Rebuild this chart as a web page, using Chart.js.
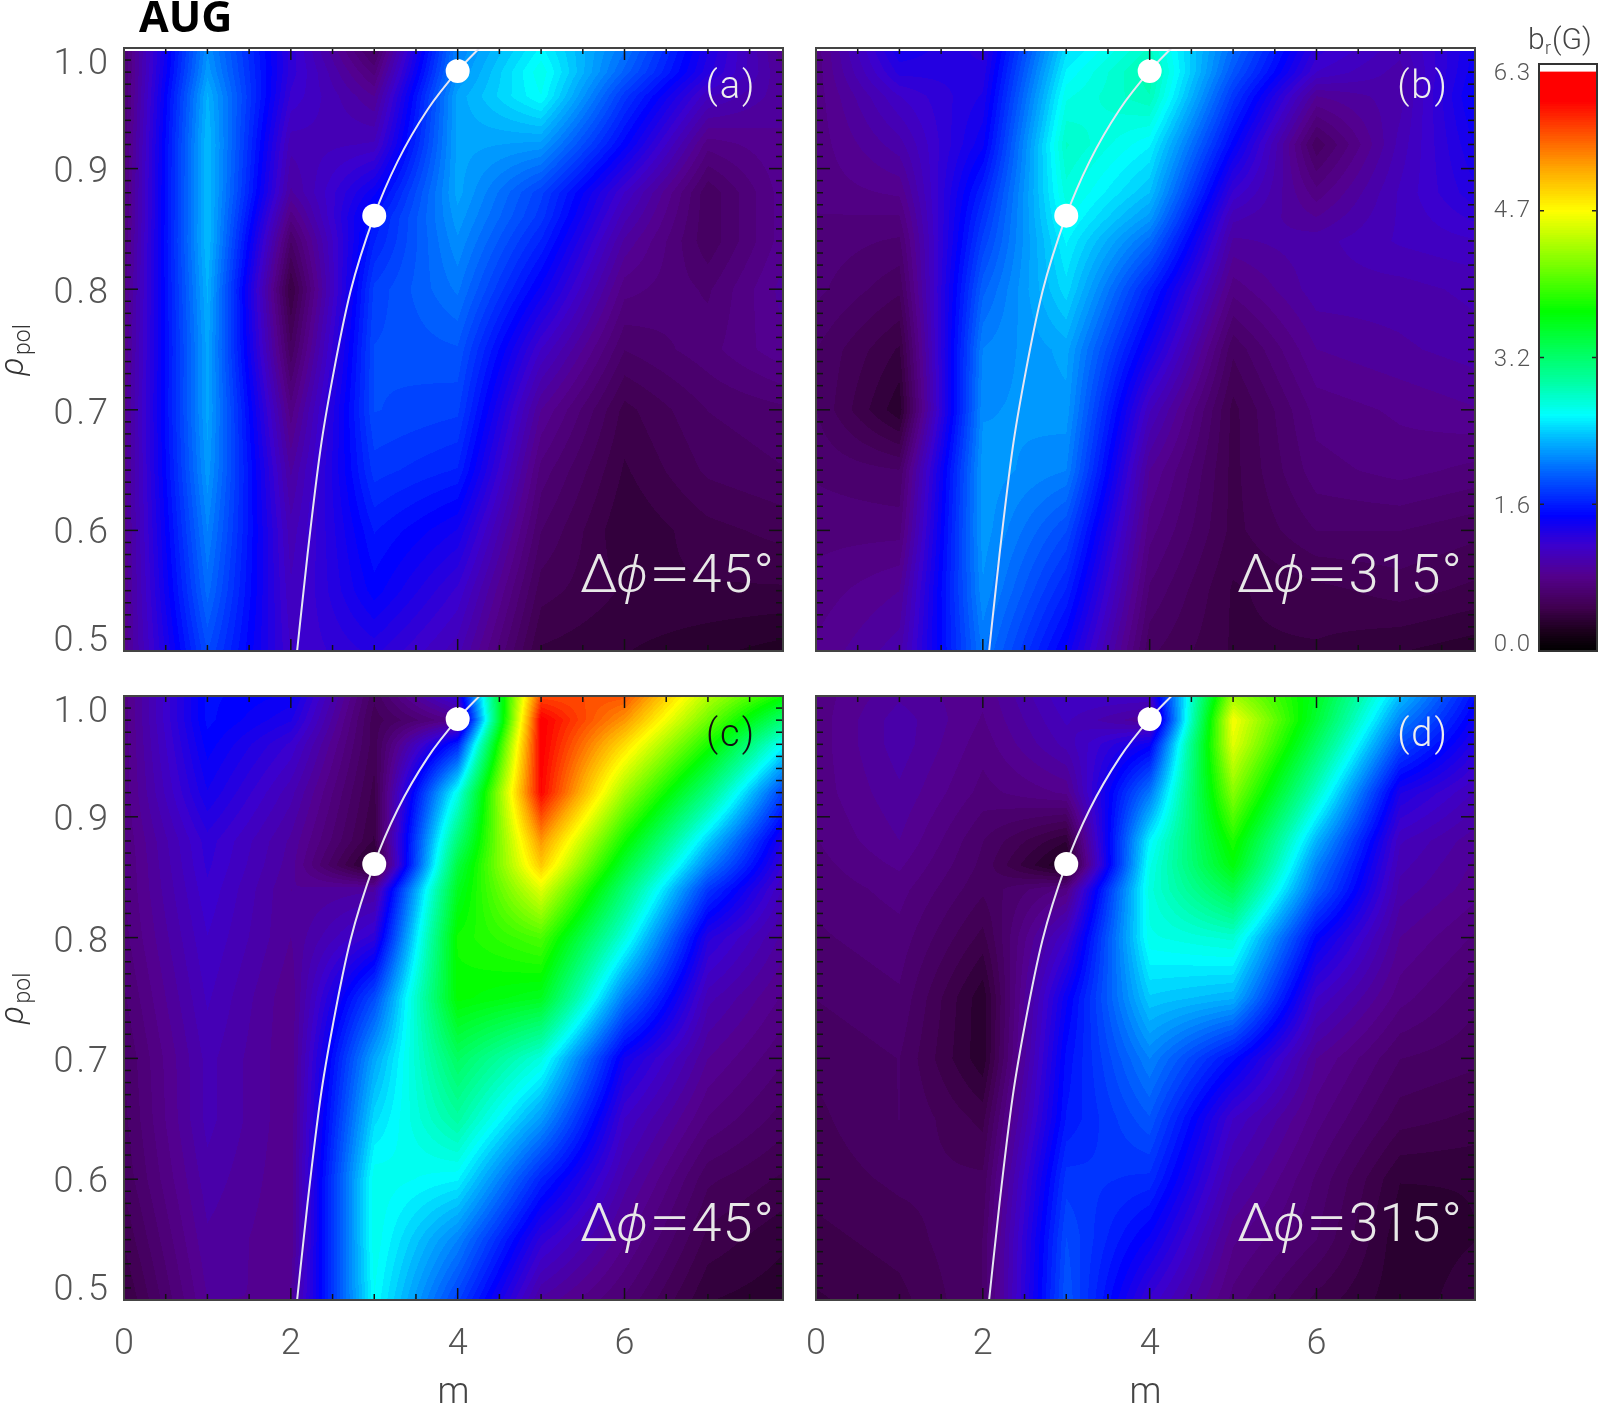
<!DOCTYPE html>
<html>
<head>
<meta charset="utf-8">
<title>AUG</title>
<script src="https://cdn.jsdelivr.net/npm/chart.js@4"></script>
<style>
    body { margin: 0; background: #fff; }
    #page { position: relative; width: 1600px; height: 1403px; overflow: hidden; }
    #page canvas { position: absolute; }
</style>
</head>
<body>
<div id="page">
    <canvas id="chartA" width="800" height="670" style="left:0;top:0"></canvas>
    <canvas id="chartB" width="690" height="670" style="left:800px;top:0"></canvas>
    <canvas id="chartC" width="800" height="746" style="left:0;top:670px"></canvas>
    <canvas id="chartD" width="798" height="746" style="left:692px;top:670px"></canvas>
    <canvas id="chartBar" width="110" height="670" style="left:1490px;top:0"></canvas>
</div>
<script>
// grid of the b_r maps, one row per rho, one column per m
const mGrid = [0, 1, 2, 3, 4, 5, 6, 7, 8];
const rhoGrid = [0.50, 0.55, 0.60, 0.65, 0.70, 0.75, 0.80, 0.84, 0.86, 0.88, 0.92, 0.96, 0.98, 1.00];

const panelA = [
    [.8, 1.8, 1.1, 1.25, 1.0, .4, .35, .3, .25],
    [.8, 1.95, 1.05, 1.45, 1.15, .5, .4, .4, .4],
    [.8, 2.05, 1.0, 1.55, 1.35, .6, .35, .45, .5],
    [.8, 2.15, .9, 1.7, 1.6, .7, .4, .55, .6],
    [.8, 2.2, .75, 1.8, 1.75, .85, .45, .6, .65],
    [.78, 2.2, .55, 1.8, 1.85, 1.1, .6, .7, .85],
    [.75, 2.25, .4, 1.75, 2.0, 1.4, .75, .65, .9],
    [.72, 2.3, .6, 1.6, 2.1, 1.6, .9, .55, .85],
    [.7, 2.3, .75, 1.55, 2.15, 1.7, 1.0, .55, .85],
    [.7, 2.3, .9, 1.4, 2.2, 1.75, 1.1, .55, .85],
    [.68, 2.3, 1.0, 1.05, 2.2, 2.15, 1.45, .75, .85],
    [.65, 2.25, 1.15, .85, 2.2, 2.55, 1.7, 1.05, .85],
    [.65, 2.15, 1.2, .7, 2.1, 2.6, 1.9, 1.25, .8],
    [.65, 2.1, 1.2, .55, 2.05, 2.5, 2.0, 1.3, .75]
];
const panelB = [
    [.8, .95, 2.0, 1.4, .55, .4, .4, .35, .3],
    [.75, .85, 2.1, 1.6, .65, .4, .45, .5, .45],
    [.7, .7, 2.15, 1.8, .75, .45, .6, .6, .55],
    [.65, .6, 2.15, 2.05, .85, .45, .7, .75, .7],
    [.6, .3, 2.1, 2.15, 1.05, .45, .75, .8, .85],
    [.6, .4, 2.05, 2.2, 1.35, .55, .85, .9, .95],
    [.68, .55, 1.9, 2.4, 1.6, .75, .95, .95, 1.0],
    [.7, .65, 1.75, 2.5, 1.95, .9, .95, 1.05, 1.1],
    [.72, .72, 1.68, 2.58, 2.15, 1.0, .85, 1.05, 1.2],
    [.75, .8, 1.6, 2.65, 2.3, 1.15, .75, 1.05, 1.3],
    [.75, .95, 1.4, 2.75, 2.5, 1.45, .55, 1.0, 1.4],
    [.75, 1.1, 1.3, 2.6, 2.8, 1.7, .85, .95, 1.5],
    [.75, 1.25, 1.25, 2.5, 2.85, 1.85, 1.1, .95, 1.45],
    [.75, 1.35, 1.2, 2.4, 2.75, 1.95, 1.2, 1.0, 1.4]
];
const panelC = [
    [.4, .85, .85, 2.55, 1.75, .9, .65, .35, .3],
    [.48, .9, .8, 2.6, 2.05, 1.2, .8, .45, .35],
    [.55, .95, .8, 2.6, 2.5, 1.6, .95, .55, .45],
    [.58, 1.0, .8, 2.4, 2.9, 2.15, 1.1, .72, .55],
    [.6, 1.0, .8, 2.2, 3.2, 2.65, 1.35, .85, .65],
    [.65, 1.05, .8, 1.8, 3.65, 3.5, 2.0, 1.0, .75],
    [.7, 1.1, .85, 1.2, 3.7, 3.95, 2.65, 1.25, .85],
    [.72, 1.15, .85, .9, 3.5, 4.6, 3.1, 1.7, .95],
    [.72, 1.18, .88, .25, 3.35, 5.0, 3.4, 2.05, 1.05],
    [.73, 1.2, .9, .4, 3.1, 5.25, 3.7, 2.35, 1.15],
    [.75, 1.35, 1.0, .45, 2.6, 5.9, 4.3, 3.05, 1.6],
    [.75, 1.45, 1.15, .5, 1.6, 5.95, 4.9, 3.75, 2.4],
    [.75, 1.5, 1.3, .5, .8, 5.95, 5.25, 4.1, 3.0],
    [.75, 1.5, 1.4, .55, 1.2, 5.6, 5.55, 4.4, 3.6]
];
const panelD = [
    [.4, .45, .6, 1.85, 1.15, .7, .45, .3, .4],
    [.45, .5, .6, 1.8, 1.4, .8, .6, .3, .35],
    [.5, .55, .55, 1.7, 1.65, .95, .65, .35, .35],
    [.52, .6, .45, 1.55, 1.85, 1.1, .75, .5, .45],
    [.55, .6, .3, 1.5, 2.05, 1.5, .85, .6, .55],
    [.6, .65, .3, 1.4, 2.35, 2.25, 1.1, .75, .6],
    [.65, .7, .45, 1.1, 2.6, 2.7, 1.45, .85, .7],
    [.68, .75, .55, .75, 2.65, 3.3, 1.9, .95, .8],
    [.7, .8, .58, .2, 2.6, 3.6, 2.05, 1.0, .82],
    [.72, .85, .6, .35, 2.5, 3.75, 2.25, 1.05, .85],
    [.75, .9, .7, .8, 2.0, 4.2, 2.75, 1.3, 1.0],
    [.75, .95, .75, 1.0, 1.4, 4.6, 3.2, 1.8, 1.2],
    [.75, .95, .78, 1.05, .85, 4.7, 3.4, 2.05, 1.3],
    [.75, .9, .8, 1.1, 1.1, 4.3, 3.5, 2.3, 1.4]
];

// white q=m/n curve and the two rational surfaces on it
const curveM = [2.075, 2.2, 2.357, 2.51, 2.715, 3.0, 3.28, 3.64, 4.0, 4.29];
const curveRho = [0.50, 0.58, 0.668, 0.73, 0.798, 0.861, 0.906, 0.949, 0.981, 1.002];
const surfaceM = [3, 4];
const surfaceRho = [0.861, 0.981];

// color table: value, r, g, b
const colorStops = [
    [0.0, 0, 0, 0], [0.2, 25, 0, 25], [0.47, 64, 0, 80], [0.8, 84, 0, 140], [1.13, 60, 0, 205],
    [1.45, 0, 0, 255], [1.92, 0, 100, 255], [2.3, 0, 190, 255], [2.53, 0, 255, 255],
    [2.86, 0, 255, 170], [3.64, 0, 255, 0], [4.18, 130, 255, 0], [4.72, 255, 255, 0],
    [5.16, 255, 170, 0], [5.6, 255, 70, 0], [5.9, 255, 0, 0], [6.22, 255, 0, 0], [6.23, 255, 255, 255]
];
const colorLevels = 100;

const xMax = 7.9;
const mMajor = [2, 4, 6];
const mMinor = [0.5, 1, 1.5, 2.5, 3, 3.5, 4.5, 5, 5.5, 6.5, 7, 7.5];
const rhoMajor = [0.6, 0.7, 0.8, 0.9];
const rhoLabels = ["0.5", "0.6", "0.7", "0.8", "0.9", "1.0"];
const rhoLabelShift = [-9, 4, 5, 5, 4, 17];
const barTicks = [0, 1.575, 3.15, 4.725, 6.3];
const barLabels = ["0.0", "1.6", "3.2", "4.7", "6.3"];
const barLabelShift = [-6, 3, 2, 0, 10];

const thinFont = '"Roboto", "Liberation Sans", sans-serif';

function colorFor(v, levels) {
    // the original is a filled contour, so snap to a fixed number of levels
    let q = v < 6.22 ? Math.round(v / 6.3 * levels) / levels * 6.3 : v;
    for (let i = 1; i < colorStops.length; i++) {
        if (q <= colorStops[i][0]) {
            const a = colorStops[i - 1], b = colorStops[i];
            const t = (q - a[0]) / (b[0] - a[0]);
            return [a[1] + (b[1] - a[1]) * t, a[2] + (b[2] - a[2]) * t, a[3] + (b[3] - a[3]) * t];
        }
    }
    return [255, 255, 255];
}

function findCell(arr, v) {
    let i = 0;
    while (i < arr.length - 2 && v > arr[i + 1]) i++;
    return i;
}

// paints the map pixel by pixel, position comes from the chart scales
const heatPlugin = {
    id: 'heat',
    beforeDatasetsDraw(chart) {
        const grid = chart.options.plugins.heat.grid;
        if (!grid) return;
        const area = chart.chartArea, xs = chart.scales.x, ys = chart.scales.y;
        const w = Math.round(area.width), h = Math.round(area.height);
        const off = document.createElement('canvas');
        off.width = w;
        off.height = h;
        const offCtx = off.getContext('2d');
        const img = offCtx.createImageData(w, h);
        for (let py = 0; py < h; py++) {
            const rho = ys.getValueForPixel(area.top + py + 0.5);
            const r = findCell(rhoGrid, rho);
            const tr = Math.min(1, Math.max(0, (rho - rhoGrid[r]) / (rhoGrid[r + 1] - rhoGrid[r])));
            for (let px = 0; px < w; px++) {
                const m = xs.getValueForPixel(area.left + px + 0.5);
                const c = findCell(mGrid, m);
                const tc = m - mGrid[c];
                const low = grid[r][c] * (1 - tc) + grid[r][c + 1] * tc;
                const high = grid[r + 1][c] * (1 - tc) + grid[r + 1][c + 1] * tc;
                const col = colorFor(low * (1 - tr) + high * tr, colorLevels);
                const k = (py * w + px) * 4;
                img.data[k] = col[0];
                img.data[k + 1] = col[1];
                img.data[k + 2] = col[2];
                img.data[k + 3] = 255;
            }
        }
        offCtx.putImageData(img, 0, 0);
        chart.ctx.drawImage(off, area.left, area.top);
    }
};

function tickLine(ctx, x1, y1, x2, y2) {
    ctx.beginPath();
    ctx.moveTo(x1, y1);
    ctx.lineTo(x2, y2);
    ctx.stroke();
}

// frame, inward ticks and all panel text
const framePlugin = {
    id: 'frame',
    afterDatasetsDraw(chart) {
        const o = chart.options.plugins.frame;
        const ctx = chart.ctx, a = chart.chartArea, xs = chart.scales.x, ys = chart.scales.y;
        ctx.save();
        ctx.strokeStyle = '#111';
        ctx.lineWidth = 1.5;
        mMajor.forEach(v => {
            const x = xs.getPixelForValue(v);
            tickLine(ctx, x, a.top, x, a.top + 12);
            tickLine(ctx, x, a.bottom, x, a.bottom - 12);
        });
        mMinor.forEach(v => {
            const x = xs.getPixelForValue(v);
            tickLine(ctx, x, a.top, x, a.top + 6);
            tickLine(ctx, x, a.bottom, x, a.bottom - 6);
        });
        for (let i = 51; i < 100; i++) {
            const v = i / 100;
            const y = ys.getPixelForValue(v);
            const len = rhoMajor.includes(v) ? 14 : 7;
            tickLine(ctx, a.left, y, a.left + len, y);
            tickLine(ctx, a.right, y, a.right - len, y);
        }
        ctx.strokeStyle = '#444';
        ctx.lineWidth = 2;
        ctx.strokeRect(a.left, a.top, a.width, a.height);

        // y labels, the end ones sit inside the range like in the original
        if (o.yLabels) {
            ctx.font = '300 36px ' + thinFont;
            ctx.fillStyle = '#555';
            ctx.textAlign = 'right';
            ctx.textBaseline = 'middle';
            ctx.letterSpacing = '3px';
            rhoLabels.forEach((t, i) => {
                ctx.fillText(t, a.left - 13, ys.getPixelForValue(parseFloat(t)) + rhoLabelShift[i]);
            });
            ctx.letterSpacing = '0px';
            // rho_pol rotated
            ctx.save();
            ctx.translate(0, (a.top + a.bottom) / 2);
            ctx.rotate(-Math.PI / 2);
            ctx.textAlign = 'center';
            ctx.textBaseline = 'alphabetic';
            ctx.fillStyle = '#333';
            ctx.font = 'italic 300 34px ' + thinFont;
            ctx.fillText('ρ', -17, 23);
            ctx.font = '300 23px ' + thinFont;
            ctx.fillText('pol', 10, 30);
            ctx.restore();
        }

        // panel letter and phase label
        ctx.font = '300 38px ' + thinFont;
        ctx.fillStyle = o.letterColor;
        ctx.textAlign = 'center';
        ctx.textBaseline = 'middle';
        ctx.letterSpacing = '2px';
        ctx.fillText(o.letter, a.right - 52, a.top + 40);
        ctx.letterSpacing = '0px';

        ctx.fillStyle = '#e8e8e8';
        ctx.textAlign = 'left';
        ctx.textBaseline = 'alphabetic';
        let tx = a.right - o.phaseLeft;
        const ty = a.bottom - 59;
        ctx.font = '300 54px ' + thinFont;
        ctx.fillText('Δ', tx, ty);
        tx += ctx.measureText('Δ').width - 2;
        ctx.font = 'italic 300 50px "Noto Sans"';
        ctx.fillText('ϕ', tx, ty);
        tx += ctx.measureText('ϕ').width + 1;
        // the equals sign is a wide one in the original
        ctx.font = '300 54px ' + thinFont;
        ctx.save();
        ctx.translate(tx, ty);
        ctx.scale(1.4, 1);
        ctx.fillText('=', 0, 0);
        ctx.restore();
        tx += ctx.measureText('=').width * 1.4 + 1;
        ctx.letterSpacing = '1px';
        ctx.fillText(o.phase, tx, ty);
        ctx.letterSpacing = '0px';

        if (o.title) {
            ctx.font = 'bold 43px "Open Sans", "Noto Sans", sans-serif';
            ctx.fillStyle = '#000';
            ctx.textAlign = 'left';
            ctx.textBaseline = 'alphabetic';
            ctx.fillText(o.title, 139, 32);
        }
        ctx.restore();
    }
};

function makePanel(id, grid, opts) {
    const nodes = [];
    rhoGrid.forEach((rho, r) => {
        mGrid.forEach((m, c) => nodes.push({ x: m, y: rho, v: grid[r][c] }));
    });
    const curve = curveM.map((m, i) => ({ x: m, y: curveRho[i] }));
    const surfaces = surfaceM.map((m, i) => ({ x: m, y: surfaceRho[i] }));
    const datasets = [
        { label: 'surfaces', data: surfaces, pointRadius: 12, pointBackgroundColor: '#fff', pointBorderWidth: 0, order: 1 },
        { label: 'q', data: curve, showLine: true, cubicInterpolationMode: 'monotone', borderColor: '#e6e6f2', borderWidth: 2, pointRadius: 0, order: 2 },
        { label: 'br', data: nodes, pointRadius: 0, order: 4 }
    ];
    if (opts.topLine) {
        datasets.push({ label: 'top', data: [{ x: 0, y: 0.9985 }, { x: xMax, y: 0.9985 }], showLine: true, borderColor: '#fff', borderWidth: 2.5, pointRadius: 0, order: 3 });
    }
    return new Chart(document.getElementById(id), {
        type: 'scatter',
        data: { datasets: datasets },
        options: {
            responsive: false,
            animation: false,
            layout: { padding: opts.padding },
            plugins: {
                legend: { display: false },
                tooltip: { enabled: false },
                heat: { grid: grid },
                frame: opts
            },
            scales: {
                x: {
                    type: 'linear',
                    min: 0,
                    max: xMax,
                    display: opts.xAxis,
                    grid: { display: false },
                    border: { display: false },
                    ticks: {
                        stepSize: 2,
                        includeBounds: false,
                        autoSkip: false,
                        maxRotation: 0,
                        padding: 15,
                        color: '#555',
                        font: { family: thinFont, size: 36, weight: '300' }
                    },
                    title: {
                        display: opts.xAxis,
                        text: 'm',
                        color: '#444',
                        padding: 0,
                        font: { family: thinFont, size: 36, weight: '300' }
                    },
                    afterFit(scale) { if (opts.xAxis) scale.height = 116; }
                },
                y: { type: 'linear', min: 0.5, max: 1.0, display: false }
            }
        },
        plugins: [heatPlugin, framePlugin]
    });
}

makePanel('chartA', panelA, { padding: { left: 124, right: 17, top: 48, bottom: 19 }, xAxis: false, topLine: true, yLabels: true, letter: '(a)', letterColor: '#eee', phase: '45°', phaseLeft: 203, title: 'AUG' });
makePanel('chartB', panelB, { padding: { left: 16, right: 15, top: 48, bottom: 19 }, xAxis: false, topLine: true, yLabels: false, letter: '(b)', letterColor: '#eee', phase: '315°', phaseLeft: 238 });
makePanel('chartC', panelC, { padding: { left: 124, right: 17, top: 26, bottom: 0 }, xAxis: true, topLine: false, yLabels: true, letter: '(c)', letterColor: '#111', phase: '45°', phaseLeft: 203 });
makePanel('chartD', panelD, { padding: { left: 124, right: 15, top: 26, bottom: 0 }, xAxis: true, topLine: false, yLabels: false, letter: '(d)', letterColor: '#eee', phase: '315°', phaseLeft: 238 });

// color bar: same color table, one row of pixels per value of the y scale
const barPlugin = {
    id: 'barFill',
    beforeDatasetsDraw(chart) {
        const ctx = chart.ctx, a = chart.chartArea, ys = chart.scales.y;
        for (let py = Math.floor(a.top); py < a.bottom; py++) {
            const c = colorFor(ys.getValueForPixel(py + 0.5), 256);
            ctx.fillStyle = 'rgb(' + c[0] + ',' + c[1] + ',' + c[2] + ')';
            ctx.fillRect(a.left, py, a.width, 1);
        }
    },
    afterDatasetsDraw(chart) {
        const ctx = chart.ctx, a = chart.chartArea, ys = chart.scales.y;
        ctx.save();
        ctx.strokeStyle = '#222';
        ctx.lineWidth = 1.5;
        barTicks.slice(1, 4).forEach(v => {
            const y = ys.getPixelForValue(v);
            tickLine(ctx, a.left, y, a.left + 5, y);
            tickLine(ctx, a.right, y, a.right - 5, y);
        });
        ctx.strokeStyle = '#333';
        ctx.lineWidth = 2;
        ctx.strokeRect(a.left, a.top, a.width, a.height);
        ctx.fillStyle = '#555';
        ctx.font = '300 24px ' + thinFont;
        ctx.textAlign = 'right';
        ctx.textBaseline = 'middle';
        ctx.letterSpacing = '2px';
        barTicks.forEach((v, i) => {
            ctx.fillText(barLabels[i], a.left - 7, ys.getPixelForValue(v) + barLabelShift[i]);
        });
        ctx.letterSpacing = '0px';
        // b_r(G) above the bar
        ctx.fillStyle = '#444';
        ctx.textAlign = 'left';
        ctx.textBaseline = 'alphabetic';
        ctx.font = '300 30px ' + thinFont;
        ctx.fillText('b', 38, 49);
        ctx.font = '300 18px ' + thinFont;
        ctx.fillText('r', 55, 54);
        ctx.font = '300 30px ' + thinFont;
        ctx.fillText('(G)', 62, 49);
        ctx.restore();
    }
};

new Chart(document.getElementById('chartBar'), {
    type: 'scatter',
    data: { datasets: [{ label: 'bar', data: barTicks.map(v => ({ x: 0, y: v })), pointRadius: 0 }] },
    options: {
        responsive: false,
        animation: false,
        layout: { padding: { left: 49, right: 3, top: 64, bottom: 19 } },
        plugins: { legend: { display: false }, tooltip: { enabled: false } },
        scales: {
            x: { display: false, min: 0, max: 1 },
            y: { display: false, type: 'linear', min: 0, max: 6.3 }
        }
    },
    plugins: [barPlugin]
});
</script>
</body>
</html>
